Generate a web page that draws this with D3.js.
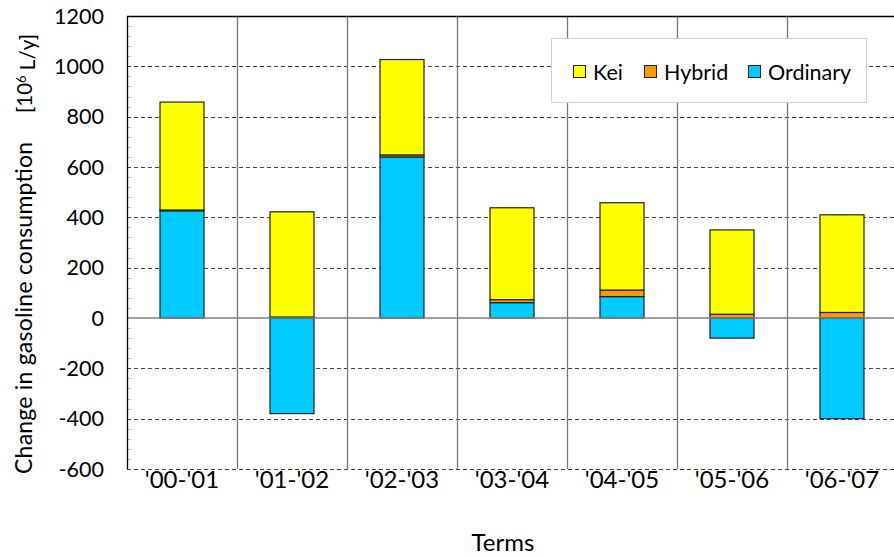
<!DOCTYPE html>
<html><head><meta charset="utf-8">
<script src="https://cdn.jsdelivr.net/npm/d3@7"></script>
<style>body{margin:0;background:#fff}svg{display:block}text{font-family:Lato,"Open Sans",sans-serif;fill:#000}</style>
</head><body>
<svg id="c" width="894" height="557"></svg>
<script>
const categories = ["'00-'01","'01-'02","'02-'03","'03-'04","'04-'05","'05-'06","'06-'07"];
const seriesNames = ["Ordinary","Hybrid","Kei"];
const ordinary = [426, -380, 640, 61, 85, -80, -400];
const hybrid   = [3, 4, 8, 12, 26, 15, 22];
const kei      = [429, 418, 379, 365, 347, 335, 388];
const yTicks = [-600,-400,-200,0,200,400,600,800,1000,1200];
const legendOrder = ["Kei","Hybrid","Ordinary"];
const colors = {Kei:"#FFFF00", Hybrid:"#FF9900", Ordinary:"#00CCFF"};

const svg = d3.select("#c");
const L=127, R=897, T=16, B=469;
const FS = "21.5px", FX = "24px";
const x = d3.scaleBand().domain(categories).range([L,R]).padding(0);
const y = d3.scaleLinear().domain([-600,1200]).range([B,T]);

const rows = categories.map((c,i)=>({cat:c, Ordinary:ordinary[i], Hybrid:hybrid[i], Kei:kei[i]}));
const stacked = d3.stack().keys(seriesNames).offset(d3.stackOffsetDiverging)(rows);

// gridlines
svg.append("g").selectAll("line").data(yTicks.filter(v=>v!==0 && v!==1200)).join("line")
  .attr("x1",L).attr("x2",R).attr("y1",d=>Math.round(y(d))+0.5).attr("y2",d=>Math.round(y(d))+0.5)
  .attr("stroke","#444").attr("stroke-width",1).attr("stroke-dasharray","4,3");
// minor ticks
svg.append("g").selectAll("line").data(d3.range(-600,1201,40).filter(v=>v%200!==0)).join("line")
  .attr("x1",L).attr("x2",L+4).attr("y1",d=>Math.round(y(d))+0.5).attr("y2",d=>Math.round(y(d))+0.5)
  .attr("stroke","#bbb");
// vertical separators
svg.append("g").selectAll("line").data(categories.slice(1)).join("line")
  .attr("x1",d=>Math.round(x(d))+0.5).attr("x2",d=>Math.round(x(d))+0.5).attr("y1",T).attr("y2",B)
  .attr("stroke","#777").attr("stroke-width",1.3);

// bars
const bw = x.bandwidth()*0.4;
svg.append("g").selectAll("g").data(stacked).join("g")
  .attr("fill",d=>colors[d.key])
  .selectAll("rect").data(d=>d).join("rect")
  .attr("x",d=>x(d.data.cat)+(x.bandwidth()-bw)/2)
  .attr("width",bw)
  .attr("y",d=>y(Math.max(d[0],d[1])))
  .attr("height",d=>Math.abs(y(d[0])-y(d[1])))
  .attr("stroke","#222").attr("stroke-width",1.2);

// zero line
svg.append("line").attr("x1",L).attr("x2",R).attr("y1",y(0)).attr("y2",y(0))
  .attr("stroke","#808080").attr("stroke-width",1.5);
// top border and left axis
svg.append("line").attr("x1",L).attr("x2",R).attr("y1",T+0.5).attr("y2",T+0.5).attr("stroke","#000").attr("stroke-width",1.3);
svg.append("line").attr("x1",L+0.5).attr("x2",L+0.5).attr("y1",T).attr("y2",B).attr("stroke","#000").attr("stroke-width",1.3);

// y tick labels
svg.append("g").selectAll("text").data(yTicks).join("text")
  .attr("x",104).attr("y",d=>y(d)).attr("dy","0.35em").attr("text-anchor","end")
  .style("font-size",FS).text(d=>d);
// x labels
svg.append("g").selectAll("text").data(categories).join("text")
  .attr("x",d=>x(d)+x.bandwidth()/2).attr("y",480).attr("dy","0.35em").attr("text-anchor","middle")
  .style("font-size",FX).text(d=>d);
svg.append("text").attr("x",503).attr("y",543).attr("dy","0.35em").attr("text-anchor","middle")
  .style("font-size",FX).text("Terms");
// y title
svg.append("text").attr("transform","translate(32,474) rotate(-90)")
  .attr("text-anchor","start").style("font-size","23px")
  .attr("textLength",332).attr("lengthAdjust","spacing")
  .text("Change in gasoline consumption");
const yt2 = svg.append("text").attr("transform","translate(32,113) rotate(-90)")
  .attr("text-anchor","start").style("font-size","20.5px");
yt2.append("tspan").text("[10");
yt2.append("tspan").attr("dy","-0.45em").style("font-size","13px").text("6");
yt2.append("tspan").attr("dy","0.45em").text(" L/y]");

// legend
const lg = svg.append("g");
lg.append("rect").attr("x",551.5).attr("y",38.5).attr("width",315).attr("height",64)
  .attr("fill","#fff").attr("stroke","#d0d0d0");
const lx = {Kei:573, Hybrid:644, Ordinary:748};
legendOrder.forEach(k=>{
  lg.append("rect").attr("x",lx[k]+0.5).attr("y",65.5).attr("width",12).attr("height",12)
    .attr("fill",colors[k]).attr("stroke","#222");
  lg.append("text").attr("x",lx[k]+20).attr("y",72).attr("dy","0.35em").style("font-size",FS).text(k);
});
</script>
</body></html>
